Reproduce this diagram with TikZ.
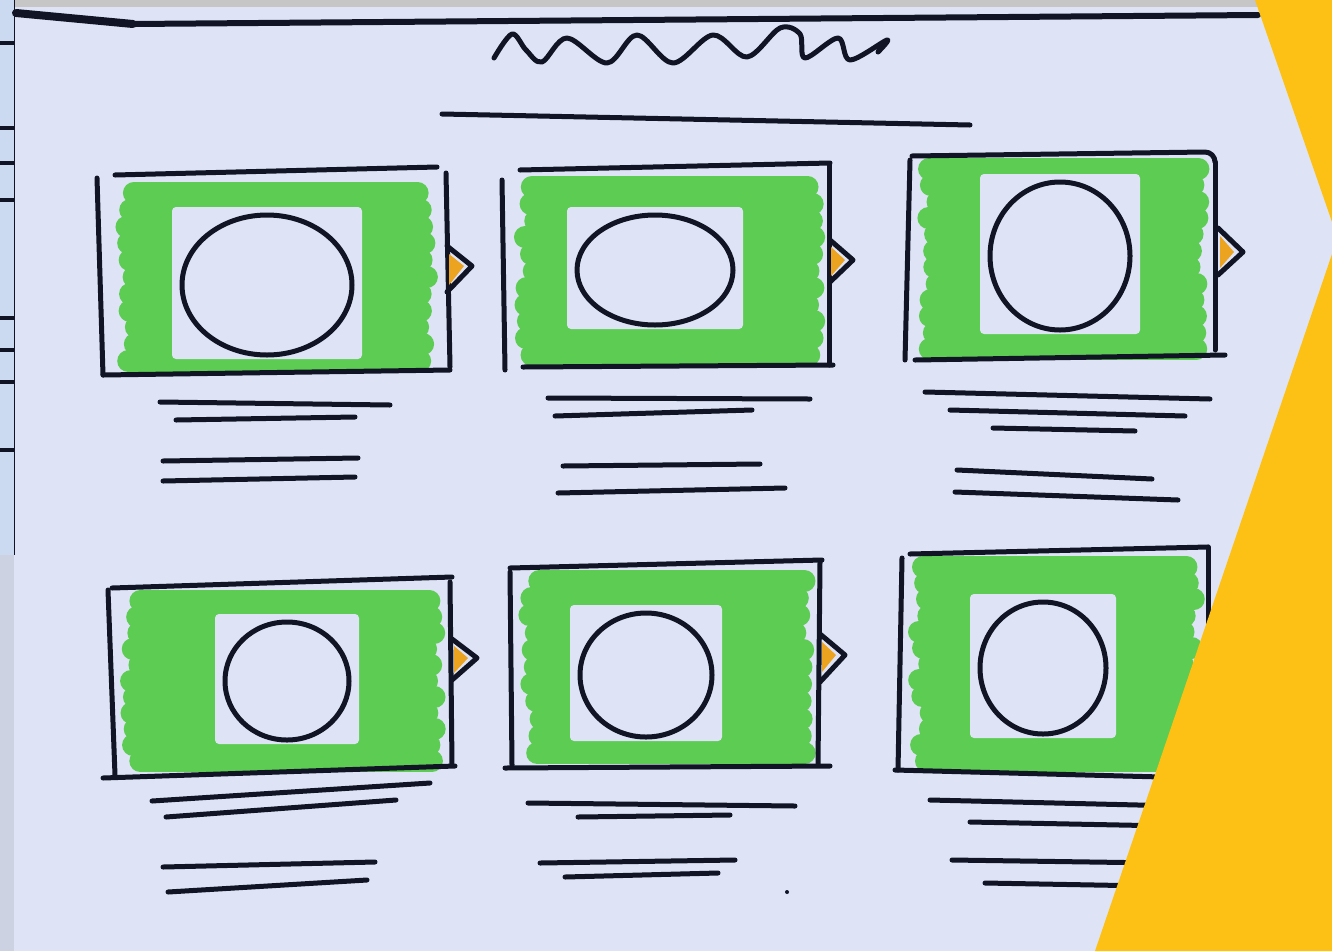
\documentclass[tikz,border=0pt]{standalone}
\definecolor{paper}{RGB}{222,228,246}
\definecolor{strip}{RGB}{203,217,241}
\definecolor{mk}{RGB}{92,204,82}
\definecolor{ink}{RGB}{16,20,36}
\definecolor{tab}{RGB}{236,163,32}
\definecolor{ylw}{RGB}{253,193,22}
\tikzset{
  pen/.style={draw=ink,line width=5pt,line cap=round,line join=round},
  marker/.style={draw=mk,line width=22pt,line cap=round},
  halo/.style={fill=paper,rounded corners=4pt},
}
\newcommand\greenpatch[4]{%
  \pgfmathtruncatemacro\nn{(#4-#2-22)/16}%
  \foreach \i in {0,...,\nn}{%
    \pgfmathsetmacro\yy{#2+11+\i*((#4-#2-22)/\nn)}%
    \pgfmathsetmacro\la{#1+11+12*rnd}%
    \pgfmathsetmacro\lb{#3-11-12*rnd}%
    \draw[marker] (\la,\yy) -- (\lb,\yy);}}
\newcommand\hole[4]{% cx cy rx ry
  \fill[halo] ({#1-#3-10},{#2-#4-8}) rectangle ({#1+#3+10},{#2+#4+4});
  \draw[pen] (#1,#2) ellipse [x radius=#3, y radius=#4];}
\begin{document}
\begin{tikzpicture}[x=1pt,y=-1pt]
\pgfmathsetseed{11}
\useasboundingbox (0,0) rectangle (1332,951);
% paper and background
\fill[paper] (0,0) rectangle (1332,951);
\fill[strip] (0,0) rectangle (14,555);
\fill[black!8!paper] (0,555) rectangle (14,951);
\fill[gray!45] (14,0) rectangle (1332,7);
\draw[ink,line width=0.8pt] (14,0) -- (14,555);
\foreach \t in {43,128,163,200,318,350,382,450}
  \draw[ink,line width=4pt] (0,\t) -- (14,\t);
% header
\draw[pen,line width=8pt] (16,13) -- (133,24);
\draw[pen,line width=6pt] (133,24) -- (1258,15);
\draw[pen] plot[smooth,tension=0.55] coordinates {(494,58) (512,34) (526,50) (542,62) (567,38) (607,63) (637,35) (673,63) (713,35) (747,57) (780,28) (800,34) (805,58) (838,38) (850,60) (887,40) (878,52)};
\draw[pen] (442,114) -- (970,125);
% ---- box 1
\greenpatch{115}{182}{440}{372}
\hole{267}{285}{85}{70}
\draw[pen] (97,178) -- (103,375);
\draw[pen] (115,175) -- (437,167);
\draw[pen] (446,173) -- (450,367);
\draw[pen] (103,375) -- (450,370);
\fill[tab] (449,254) -- (464,266) -- (449,285) -- cycle;
\draw[pen] (447,246) -- (472,266) -- (447,292);
\draw[pen] (160,402) -- (390,405);
\draw[pen] (176,420) -- (355,417);
\draw[pen] (163,461) -- (358,458);
\draw[pen] (163,481) -- (355,477);
% ---- box 2
\greenpatch{513}{176}{826}{366}
\hole{655}{270}{78}{55}
\draw[pen] (502,180) -- (505,370);
\draw[pen] (520,170) -- (830,163);
\draw[pen] (829,165) -- (829,365);
\draw[pen] (523,367) -- (833,365);
\fill[tab] (831,247) -- (845,260) -- (831,276) -- cycle;
\draw[pen] (830,240) -- (853,260) -- (830,282);
\draw[pen] (548,398) -- (810,399);
\draw[pen] (555,416) -- (752,410);
\draw[pen] (563,466) -- (760,464);
\draw[pen] (558,493) -- (785,488);
% ---- box 3
\greenpatch{916}{158}{1210}{360}
\hole{1060}{256}{70}{74}
\draw[pen] (910,160) -- (905,360);
\draw[pen] (912,156) -- (1205,152) to[out=0,in=90] (1215,162);
\draw[pen] (1215,162) -- (1215,350);
\draw[pen] (915,360) -- (1225,355);
\fill[tab] (1220,236) -- (1234,252) -- (1220,268) -- cycle;
\draw[pen] (1218,228) -- (1243,252) -- (1218,275);
\draw[pen] (925,392) -- (1210,399);
\draw[pen] (950,410) -- (1185,416);
\draw[pen] (993,428) -- (1135,431);
\draw[pen] (957,470) -- (1152,479);
\draw[pen] (955,492) -- (1178,500);
% ---- box 4
\greenpatch{120}{590}{448}{772}
\hole{287}{681}{62}{59}
\draw[pen] (108,590) -- (115,775);
\draw[pen] (112,588) -- (452,577);
\draw[pen] (450,582) -- (452,765);
\draw[pen] (103,778) -- (455,766);
\fill[tab] (454,646) -- (468,658) -- (454,673) -- cycle;
\draw[pen] (452,639) -- (477,658) -- (452,680);
\draw[pen] (152,801) -- (430,783);
\draw[pen] (166,817) -- (396,800);
\draw[pen] (163,867) -- (375,862);
\draw[pen] (168,892) -- (367,880);
% ---- box 5
\greenpatch{518}{570}{816}{764}
\hole{646}{675}{66}{62}
\draw[pen] (510,572) -- (512,765);
\draw[pen] (510,568) -- (822,560);
\draw[pen] (820,562) -- (818,765);
\draw[pen] (505,768) -- (830,766);
\fill[tab] (822,642) -- (836,655) -- (822,672) -- cycle;
\draw[pen] (820,634) -- (845,655) -- (820,682);
\draw[pen] (528,803) -- (795,806);
\draw[pen] (578,817) -- (730,815);
\draw[pen] (540,863) -- (735,860);
\draw[pen] (565,877) -- (718,873);
\fill[ink] (787,892) circle (2);
% ---- box 6
\greenpatch{908}{556}{1205}{772}
\hole{1043}{668}{63}{66}
\draw[pen] (902,558) -- (898,770);
\draw[pen] (910,554) -- (1208,547);
\draw[pen] (1208,547) -- (1208,640);
\draw[pen] (895,770) -- (1200,778);
\draw[pen] (930,800) -- (1180,806);
\draw[pen] (970,822) -- (1170,826);
\draw[pen] (952,860) -- (1160,863);
\draw[pen] (985,883) -- (1150,886);
% ---- yellow chevron frame
\fill[ylw] (1255,0) -- (1332,0) -- (1332,222) -- cycle;
\fill[ylw] (1332,254) -- (1332,951) -- (1095,951) -- cycle;
\end{tikzpicture}
\end{document}
